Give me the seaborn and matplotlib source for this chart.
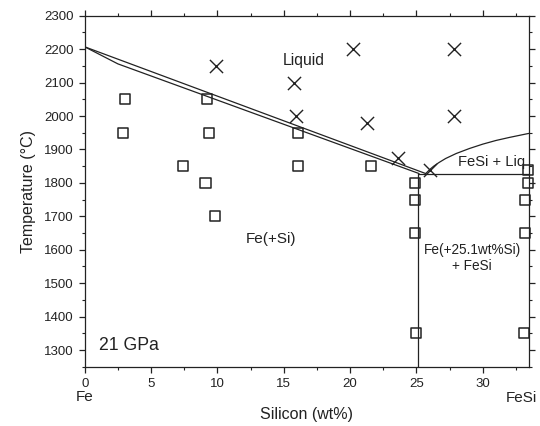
import numpy as np
import pandas as pd
import seaborn as sns
import matplotlib
matplotlib.use("Agg")
import matplotlib.pyplot as plt
from matplotlib.ticker import MultipleLocator
from matplotlib.transforms import blended_transform_factory

# Experimental runs: open squares = subsolidus, crosses = liquid present
solid_si = [3.0, 2.9, 9.2, 9.4, 7.4, 9.1, 9.8, 16.1, 16.1, 21.6,
            24.9, 24.9, 24.9, 25.0, 33.4, 33.4, 33.2, 33.2, 33.1]
solid_t = [2050, 1950, 2050, 1950, 1850, 1800, 1700, 1950, 1850, 1850,
           1800, 1750, 1650, 1350, 1840, 1800, 1750, 1650, 1350]
liquid_si = [9.9, 20.2, 27.8, 15.8, 15.95, 21.3, 27.8, 23.6, 26.05]
liquid_t = [2150, 2200, 2200, 2100, 2000, 1980, 2000, 1875, 1840]

# Phase boundaries
liquidus_up_si = [0.0, 25.7]
liquidus_up_t = [2207, 1828]
liquidus_lo_si = [0.0, 2.5, 25.2]
liquidus_lo_t = [2207, 2156, 1828]
fesi_liq_si = [25.7, 25.85, 26.0, 26.3, 26.7, 27.2, 28.0, 29.0, 30.0, 31.0, 32.0, 33.46]
fesi_liq_t = [1828, 1834, 1840, 1850, 1861, 1873, 1888, 1903, 1916, 1927, 1936, 1948]
eutectic_si = [25.1, 33.46]
eutectic_t = [1828, 1828]
solvus_si = [25.1, 25.1]
solvus_t = [1828, 1250]

solid = pd.DataFrame({'si': solid_si, 't': solid_t})
liquid = pd.DataFrame({'si': liquid_si, 't': liquid_t})

sns.set_style('ticks')
plt.rcParams['font.family'] = ['Liberation Sans', 'DejaVu Sans']

fig = plt.figure(figsize=(5.4, 4.26), dpi=100)
ax = fig.add_axes([0.157, 0.139, 0.822, 0.824])

ink = '#222222'
for xs, ys in [(liquidus_up_si, liquidus_up_t), (liquidus_lo_si, liquidus_lo_t),
               (fesi_liq_si, fesi_liq_t), (eutectic_si, eutectic_t), (solvus_si, solvus_t)]:
    sns.lineplot(x=xs, y=ys, sort=False, estimator=None, color=ink, lw=0.9, ax=ax)

sns.scatterplot(data=solid, x='si', y='t', marker='s', s=52, facecolor='none',
                edgecolor=ink, linewidth=1.1, clip_on=False, zorder=5, ax=ax)
sns.scatterplot(data=liquid, x='si', y='t', marker='x', s=90, color=ink,
                linewidth=1.0, zorder=5, ax=ax)

ax.set_xlim(0, 33.46)
ax.set_ylim(1250, 2300)
ax.xaxis.set_major_locator(MultipleLocator(5))
ax.xaxis.set_minor_locator(MultipleLocator(2.5))
ax.yaxis.set_major_locator(MultipleLocator(100))
ax.yaxis.set_minor_locator(MultipleLocator(50))
ax.tick_params(which='both', direction='out', top=True, right=True, color=ink,
               labelsize=9.5, labelcolor='#222222')
ax.tick_params(which='major', length=4.5, width=0.9)
ax.tick_params(which='minor', length=2.4, width=0.8)
for sp in ax.spines.values():
    sp.set_color(ink)
    sp.set_linewidth(0.9)

ax.set_xlabel('Silicon (wt%)', fontsize=11.5, color=ink, labelpad=12)
ax.set_ylabel('Temperature (°C)', fontsize=11.5, color=ink, labelpad=6)

ax.text(14.9, 2165, 'Liquid', fontsize=11.3, va='center', color=ink)
ax.text(28.1, 1863, 'FeSi + Liq', fontsize=10.6, va='center', color=ink)
ax.text(12.1, 1631, 'Fe(+Si)', fontsize=11, va='center', color=ink)
ax.text(29.2, 1575, 'Fe(+25.1wt%Si)\n+ FeSi', fontsize=9.8, ha='center',
        va='center', linespacing=1.2, color=ink)
ax.text(1.07, 1315, '21 GPa', fontsize=12.7, va='center', color=ink)

trans = blended_transform_factory(ax.transData, ax.transAxes)
ax.text(0, -0.085, 'Fe', transform=trans, ha='center', va='center', fontsize=11, color=ink)
ax.text(32.9, -0.088, 'FeSi', transform=trans, ha='center', va='center', fontsize=11,
        color=ink, clip_on=False)

fig.savefig('out.png', dpi=100)
